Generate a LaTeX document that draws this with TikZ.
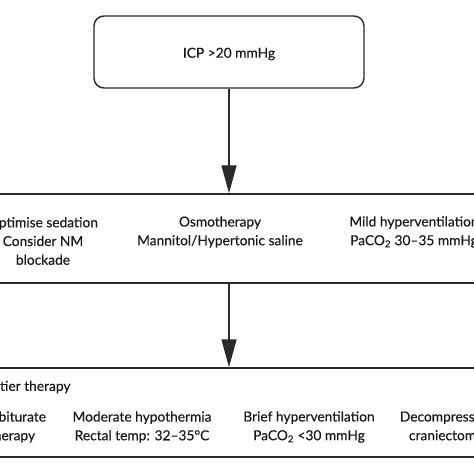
\documentclass[tikz,border=0pt]{standalone}
\usepackage{fontspec}
\setmainfont[FakeBold=0.4]{Lato}
\usetikzlibrary{arrows.meta}
\definecolor{ink}{HTML}{1A1A1A}
\definecolor{edge}{HTML}{2A2A2A}
\tikzset{
  box/.style={draw=edge, line width=1.4bp, minimum width=498bp, minimum height=89bp, inner sep=0pt},
  topbox/.style={draw=edge, line width=1.4bp, rounded corners=10bp, minimum width=270bp, minimum height=72bp, inner sep=0pt},
  txt/.style={text=ink, font=\fontsize{13.8}{18.8}\selectfont, align=center, inner sep=0pt},
  arr/.style={draw=edge, line width=1.4bp, -{Triangle[length=28bp,width=15bp]}}
}
\begin{document}
\begin{tikzpicture}[x=1bp,y=-1bp]
\useasboundingbox (0,0) rectangle (474,474);
\clip (0,0) rectangle (474,474);
\node[topbox] (top) at (229,52) {};
\node[txt] (icp) at (229,54) {ICP >20 mmHg};
\node[box] (mid) at (229,238.5) {};
\node[box] (bot) at (229,412.5) {};
\draw[arr] (top.south) -- (mid.north);
\draw[arr] (mid.south) -- (bot.north);
% middle row
\node[txt] (m1) at (43,241) {Optimise sedation\\Consider NM\\blockade};
\node[txt] (m2) at (220,232) {Osmotherapy\\Mannitol/Hypertonic saline};
\node[txt] (m3) at (414,232) {Mild hyperventilation\\PaCO\textsubscript{2} 30–35 mmHg};
% bottom
\node[txt, anchor=west] (b0) at (-48,387) {Second tier therapy};
\node[txt] (b1) at (12,427) {Barbiturate\\therapy};
\node[txt] (b2) at (142,427) {Moderate hypothermia\\Rectal temp: 32–35°C};
\node[txt] (b3) at (309,427) {Brief hyperventilation\\PaCO\textsubscript{2} <30 mmHg};
\node[txt] (b4) at (446,427) {Decompressive\\craniectomy};
\end{tikzpicture}
\end{document}
